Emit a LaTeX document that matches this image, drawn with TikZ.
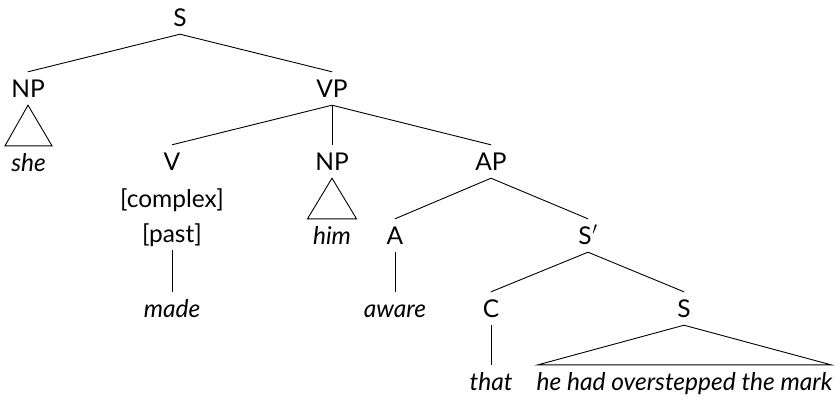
\documentclass[tikz,border=0pt]{standalone}
\usepackage{fontspec}
\setmainfont{Lato}
\begin{document}
\begin{tikzpicture}[x=1pt,y=-1pt,
  lbl/.style={anchor=base,inner xsep=0pt,inner ysep=8pt,text height=17pt,text depth=0pt,font=\fontsize{24.5}{28}\selectfont},
  wrd/.style={lbl,font=\fontsize{24.5}{28}\selectfont\itshape},
  br/.style={line width=0.9pt,line join=miter}]
\useasboundingbox (0,0) rectangle (840,400);
% labels
\node[lbl] (s) at (180,26) {S};
\node[lbl] (np) at (28,97) {NP};
\node[lbl] (vp) at (332,97) {VP};
\node[wrd] (she) at (28.5,171) {she};
\node[lbl] (v) at (172,170) {V};
\node[lbl] (cx) at (172,207) {[complex]};
\node[lbl] (past) at (172,242) {[past]};
\node[wrd] (made) at (172,317) {made};
\node[lbl] (np2) at (332,170) {NP};
\node[wrd] (him) at (332,244) {him};
\node[lbl] (ap) at (491,170) {AP};
\node[lbl] (a) at (395,244) {A};
\node[wrd] (aware) at (395,317) {aware};
\node[lbl] (sb) at (588,244) {S\kern0.5pt$'$};
\node[lbl] (c) at (491,317) {C};
\node[wrd] (that) at (491,390) {that};
\node[lbl] (s2) at (684,317) {S};
\node[wrd] (hm) at (684.5,390) {he had overstepped the mark};
% branches
\draw[br] (s.south) -- (np.north);
\draw[br] (s.south) -- (vp.north);
\draw[br] (vp.south) -- (v.north);
\draw[br] (vp.south) -- (np2.north);
\draw[br] (vp.south) -- (ap.north);
\draw[br] (past.south) -- (made.north);
\draw[br] (ap.south) -- (a.north);
\draw[br] (ap.south) -- (sb.north);
\draw[br] (a.south) -- (aware.north);
\draw[br] (sb.south) -- (c.north);
\draw[br] (sb.south) -- (s2.north);
\draw[br] (c.south) -- (that.north);
% triangles
\draw[br] (np.south) -- ([xshift=-23.5pt]she.north) -- ([xshift=23.5pt]she.north) -- cycle;
\draw[br] (np2.south) -- ([xshift=-24.5pt]him.north) -- ([xshift=24.5pt]him.north) -- cycle;
\draw[br] (s2.south) -- ([xshift=-146.5pt]hm.north) -- ([xshift=146.5pt]hm.north) -- cycle;
\end{tikzpicture}
\end{document}
